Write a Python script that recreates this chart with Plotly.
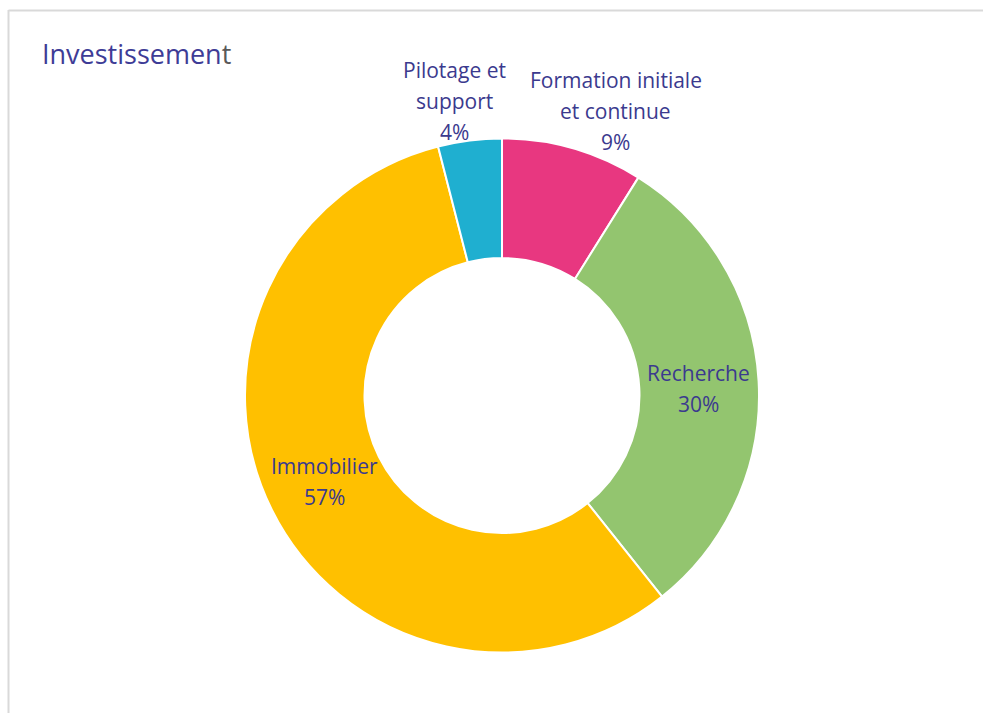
import math
import plotly.graph_objects as go

# ---- data ----
labels = ["Formation initiale<br>et continue", "Recherche", "Immobilier", "Pilotage et<br>support"]
values = [8.9, 30.4, 56.7, 4.0]
colors = ["#E83780", "#93C56F", "#FFC000", "#1FAFD0"]
title_main = "Investissemen"
title_tail = "t"

# ---- layout geometry (pixels) ----
W, H = 983, 713
cx, cy = 502, 395.5
r_out = 257
hole = 0.535
r_in = r_out * hole
text_color = "#3B3A8E"
font_family = "Open Sans"
font_size = 21
line_gap = 31

# label placement: radius in px from centre and small nudges (px)
label_radius = [303, (r_in + r_out) / 2, (r_in + r_out) / 2, 303]
label_nudge = [(30, 7), (0, 4), (-1, -2), (-10, 6)]

fig = go.Figure()
fig.add_trace(go.Pie(
    labels=[l.replace("<br>", " ") for l in labels],
    values=values,
    hole=hole,
    sort=False,
    direction="clockwise",
    rotation=0,
    marker=dict(colors=colors, line=dict(color="white", width=2)),
    textinfo="none",
    showlegend=False,
    domain=dict(x=[(cx - r_out) / W, (cx + r_out) / W],
                y=[(H - cy - r_out) / H, (H - cy + r_out) / H]),
))

total = sum(values)
cum = 0
annotations = []
for i, (lab, v) in enumerate(zip(labels, values)):
    mid = (cum + v / 2) / total * 2 * math.pi
    cum += v
    px = cx + label_radius[i] * math.sin(mid) + label_nudge[i][0]
    py = cy - label_radius[i] * math.cos(mid) + label_nudge[i][1]
    lines = lab.split("<br>") + [f"{round(v / total * 100)}%"]
    n = len(lines)
    for j, ln in enumerate(lines):
        ly = py + (j - (n - 1) / 2) * line_gap
        annotations.append(dict(
            x=px / W, y=1 - ly / H, xref="paper", yref="paper",
            text=ln, showarrow=False, xanchor="center", yanchor="middle",
            font=dict(family=font_family, size=font_size, color=text_color),
        ))

annotations.append(dict(
    x=40 / W, y=1 - 54 / H, xref="paper", yref="paper",
    text=f"<span style='color:#3E3C96'>{title_main}</span><span style='color:#595959'>{title_tail}</span>",
    showarrow=False, xanchor="left", yanchor="middle",
    font=dict(family=font_family, size=27, color="#3E3C96"),
))

shapes = [
    dict(type="line", xref="paper", yref="paper", x0=8.5 / W, x1=8.5 / W, y0=0, y1=1 - 10 / H,
         line=dict(color="#D9D9D9", width=2)),
    dict(type="line", xref="paper", yref="paper", x0=8.5 / W, x1=1, y0=1 - 10.5 / H, y1=1 - 10.5 / H,
         line=dict(color="#D9D9D9", width=2)),
]

fig.update_layout(
    width=W, height=H,
    margin=dict(l=0, r=0, t=0, b=0),
    paper_bgcolor="white", plot_bgcolor="white",
    annotations=annotations, shapes=shapes,
)

fig.write_html("out.html")
